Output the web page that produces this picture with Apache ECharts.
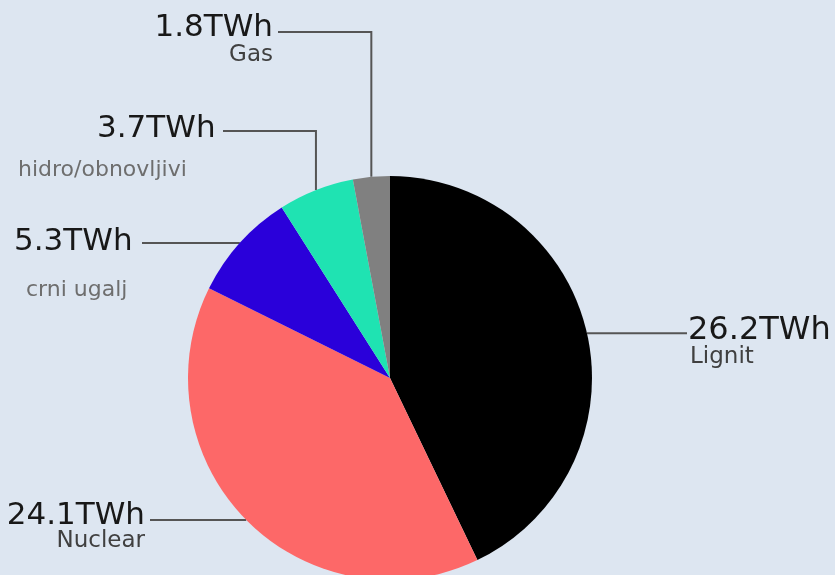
<!DOCTYPE html>
<html>
<head>
<meta charset="utf-8">
<script src="https://cdn.jsdelivr.net/npm/echarts@6/dist/echarts.min.js"></script>
<style>
html,body{margin:0;padding:0;background:#dde6f1;}
#chart{width:835px;height:575px;}
</style>
</head>
<body>
<div id="chart"></div>
<script>
const categories = ['Lignit', 'Nuclear', 'crni ugalj', 'hidro/obnovljivi', 'Gas'];
const values = [26.2, 24.1, 5.3, 3.7, 1.8];
const unit = 'TWh';
const colors = ['#000000', '#fd6868', '#2a00da', '#1fe3b2', '#808080'];

// label placement (layout only)
const nameStyles = ['nL', 'nN', 'nC', 'nH', 'nG'];
const valueStyles = ['vL', 'v', 'v', 'vH', 'v'];
const labelPlace = [
  { x: 688, y: 316, align: 'left', route: 'h', endX: 687 },
  { x: 145, y: 501, align: 'right', route: 'h', endX: 150 },
  { x: 14, y: 227, align: 'left', route: 'h', endX: 142 },
  { x: 18, y: 114, align: 'left', route: 'vh', lineY: 131, endX: 223 },
  { x: 273, y: 13, align: 'right', route: 'vh', lineY: 32, endX: 278 }
];

const chart = echarts.init(document.getElementById('chart'), null, { renderer: 'canvas' });
const FONT = 'DejaVu Sans';
const option = {
  backgroundColor: '#dde6f1',
  animation: false,
  series: [{
    type: 'pie',
    center: [390, 378],
    radius: [0, 202],
    startAngle: 90,
    clockwise: true,
    avoidLabelOverlap: false,
    data: categories.map((c, i) => ({ name: c, value: values[i], itemStyle: { color: colors[i] } })),
    label: {
      show: true,
      position: 'outside',
      formatter: p => '{' + valueStyles[p.dataIndex] + '|' + p.value.toFixed(1) + unit + '}\n{' + nameStyles[p.dataIndex] + '|' + p.name + '}',
      rich: {
        v: { fontFamily: FONT, fontSize: 31, color: '#181818', lineHeight: 30 },
        vL: { fontFamily: FONT, fontSize: 32, color: '#181818', lineHeight: 30 },
        vH: { fontFamily: FONT, fontSize: 31, color: '#181818', lineHeight: 30, padding: [0, 0, 0, 79] },
        nG: { fontFamily: FONT, fontSize: 23, color: '#404040', lineHeight: 24 },
        nH: { fontFamily: FONT, fontSize: 22, color: '#6e6e6e', lineHeight: 52 },
        nC: { fontFamily: FONT, fontSize: 22, color: '#6e6e6e', lineHeight: 67, padding: [0, 0, 0, 12] },
        nL: { fontFamily: FONT, fontSize: 23, color: '#404040', lineHeight: 22, padding: [0, 0, 0, 2] },
        nN: { fontFamily: FONT, fontSize: 23, color: '#404040', lineHeight: 21 }
      }
    },
    labelLine: {
      show: true,
      length: 10,
      length2: 10,
      lineStyle: { color: '#555555', width: 2 }
    },
    labelLayout: function (params) {
      const i = params.dataIndex;
      const lp = labelPlace[i];
      const p0 = params.labelLinePoints ? params.labelLinePoints[0] : [0, 0];
      let pts;
      if (lp.route === 'vh') {
        pts = [[p0[0], p0[1]], [p0[0], lp.lineY], [lp.endX, lp.lineY]];
      } else {
        pts = [[p0[0], p0[1]], [p0[0], p0[1]], [lp.endX, p0[1]]];
      }
      return {
        x: lp.x,
        y: lp.y,
        align: lp.align,
        verticalAlign: 'top',
        labelLinePoints: pts
      };
    },
    emphasis: { disabled: true }
  }]
};
chart.setOption(option);
</script>
</body>
</html>
